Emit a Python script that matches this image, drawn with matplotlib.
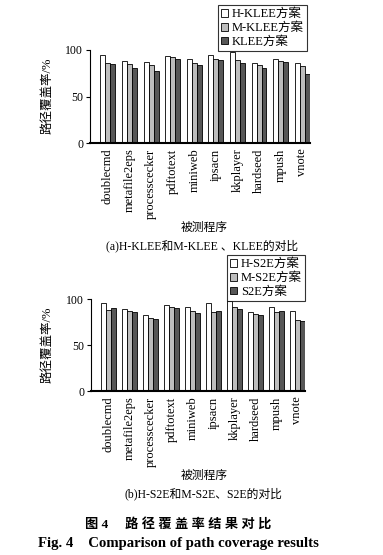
import numpy as np
import matplotlib
matplotlib.use("Agg")
import matplotlib.pyplot as plt

plt.rcParams["font.family"] = ["Liberation Serif", "Noto Sans CJK SC"]

# ----------------------------
# Data
# ----------------------------
programs = ["doublecmd", "metafile2eps", "processcecker", "pdftotext", "miniweb",
            "ipsacn", "kkplayer", "hardseed", "mpush", "vnote"]

h_klee = [94.6, 88.2, 87.1, 93.2, 90.0, 94.3, 97.5, 85.7, 90.0, 86.0]
m_klee = [85.7, 84.6, 83.9, 92.1, 86.0, 90.7, 88.9, 83.6, 87.9, 83.2]
klee = [84.6, 80.4, 77.5, 90.7, 83.9, 89.6, 86.4, 80.4, 87.1, 73.9]

h_s2e = [95.6, 88.7, 82.2, 93.8, 90.9, 96.0, 97.8, 85.8, 91.3, 86.9]
m_s2e = [87.6, 86.9, 78.9, 91.3, 86.9, 85.8, 90.9, 84.0, 85.8, 77.1]
s2e = [90.2, 85.8, 77.8, 90.5, 85.1, 86.5, 88.7, 82.9, 86.5, 76.0]

labels_a = ["H-KLEE方案", "M-KLEE方案", "KLEE方案"]
labels_b = ["H-S2E方案", "M-S2E方案", "S2E方案"]

COLORS = ["#ffffff", "#bdbdbd", "#575757"]
BAR_W = 0.23
W, H = 383, 555


def draw_panel(ax, series, labels, legend_anchor):
    x = np.arange(len(programs))
    for k, (vals, lab) in enumerate(zip(series, labels)):
        ax.bar(x + (k - 1) * BAR_W, vals, width=BAR_W, color=COLORS[k],
               edgecolor="black", linewidth=0.6, label=lab)
    ax.set_xlim(-0.83, 9.36)
    ax.set_ylim(0, 100)
    ax.set_yticks([0, 50, 100])
    ax.tick_params(axis="y", labelsize=8.5, length=3, width=0.8, direction="out", pad=2)
    ax.set_xticks(x)
    ax.set_xticklabels(programs, rotation=90, fontsize=9)
    ax.tick_params(axis="x", length=0, pad=4)
    for s in ["top", "right"]:
        ax.spines[s].set_visible(False)
    ax.spines["left"].set_linewidth(0.8)
    ax.spines["bottom"].set_linewidth(1.5)
    leg = ax.legend(loc="upper right", bbox_to_anchor=legend_anchor,
                    bbox_transform=ax.figure.transFigure, fontsize=9,
                    frameon=True, fancybox=False, edgecolor="black",
                    handlelength=0.6, handleheight=0.6, handletextpad=0.3,
                    labelspacing=0.15, borderpad=0.25, borderaxespad=0)
    leg.get_frame().set_linewidth(0.8)


fig = plt.figure(figsize=(W / 100, H / 100), dpi=100)

ax1 = fig.add_axes([90 / W, 1 - 143 / H, 220 / W, 93 / H])
draw_panel(ax1, [h_klee, m_klee, klee], labels_a, (307 / W, 1 - 5 / H))

ax2 = fig.add_axes([91 / W, 1 - 391 / H, 214 / W, 92 / H])
draw_panel(ax2, [h_s2e, m_s2e, s2e], labels_b, (305 / W, 1 - 255 / H))

# y labels
fig.text(47 / W, 1 - 96 / H, "路径覆盖率/%", rotation=90, ha="center", va="center", fontsize=9)
fig.text(47 / W, 1 - 345 / H, "路径覆盖率/%", rotation=90, ha="center", va="center", fontsize=9)

# x labels and captions
fig.text(204 / W, 1 - 228 / H, "被测程序", ha="center", va="center", fontsize=8.5)
fig.text(202 / W, 1 - 246 / H, "(a)H-KLEE和M-KLEE 、KLEE的对比", ha="center", va="center", fontsize=8.5)
fig.text(204 / W, 1 - 476 / H, "被测程序", ha="center", va="center", fontsize=8.5)
fig.text(203 / W, 1 - 494 / H, "(b)H-S2E和M-S2E、S2E的对比", ha="center", va="center", fontsize=8.5)

fig.text(178 / W, 1 - 524 / H, "图 4     路 径 覆 盖 率 结 果 对 比", ha="center", va="center",
         fontsize=9.5, fontweight="bold")
fig.text(178 / W, 1 - 544 / H, "Fig. 4    Comparison of path coverage results", ha="center",
         va="center", fontsize=10.6, fontweight="bold")

fig.savefig("out.png", dpi=100)
